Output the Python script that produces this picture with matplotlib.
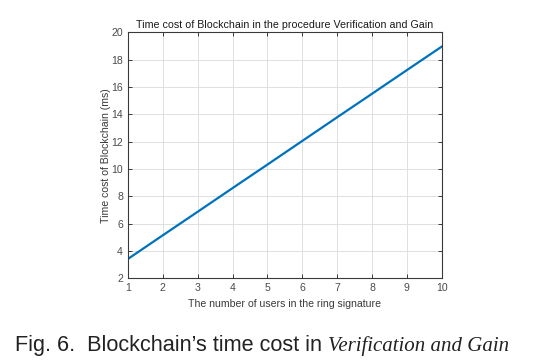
import matplotlib
matplotlib.use("Agg")
import matplotlib.pyplot as plt

users = [1, 2, 3, 4, 5, 6, 7, 8, 9, 10]
time_cost = [3.42, 5.15, 6.87, 8.60, 10.32, 12.05, 13.78, 15.50, 17.23, 18.95]
x_ticks = [1, 2, 3, 4, 5, 6, 7, 8, 9, 10]
y_ticks = [2, 4, 6, 8, 10, 12, 14, 16, 18, 20]

plt.rcParams['font.family'] = ['Liberation Sans', 'DejaVu Sans']

fig = plt.figure(figsize=(5.43, 3.64), dpi=100)
ax = fig.add_axes([0.2357, 0.2354, 0.5777, 0.6759])
ax.plot(users, time_cost, color=(0, 0.447, 0.741), linewidth=1.6)
ax.set_xlim(1, 10)
ax.set_ylim(2, 20)
ax.set_xticks(x_ticks)
ax.set_yticks(y_ticks)
ax.grid(True, color='#e0e0e0', linewidth=0.7)
ax.set_axisbelow(True)
for s in ax.spines.values():
    s.set_color('#3a3a3a')
    s.set_linewidth(0.8)
ax.tick_params(direction='in', top=True, right=True, length=3, width=0.7,
               labelsize=7.6, colors='#3a3a3a', labelcolor='#4a4a4a', pad=3.5)
ax.set_title('Time cost of Blockchain in the procedure Verification and Gain',
             fontsize=7.7, color='#1a1a1a', pad=3)
ax.set_xlabel('The number of users in the ring signature', fontsize=7.6,
              color='#3a3a3a', labelpad=4)
ax.set_ylabel('Time cost of Blockchain (ms)', fontsize=7.6, color='#3a3a3a',
              labelpad=0.5)

t1 = fig.text(15 / 543, 1 - 346 / 364, 'Fig. 6.  Blockchain\u2019s time cost in ',
              fontsize=15.6, color='#222222', va='center', ha='left',
              family=['Liberation Sans'])
ann = plt.annotate('Verification and Gain', xy=(1, 0), xycoords=t1,
                   va='bottom', ha='left', fontsize=15, color='#222222',
                   family=['Liberation Serif'], style='italic',
                   annotation_clip=False)

fig.savefig('out.png', dpi=100)
